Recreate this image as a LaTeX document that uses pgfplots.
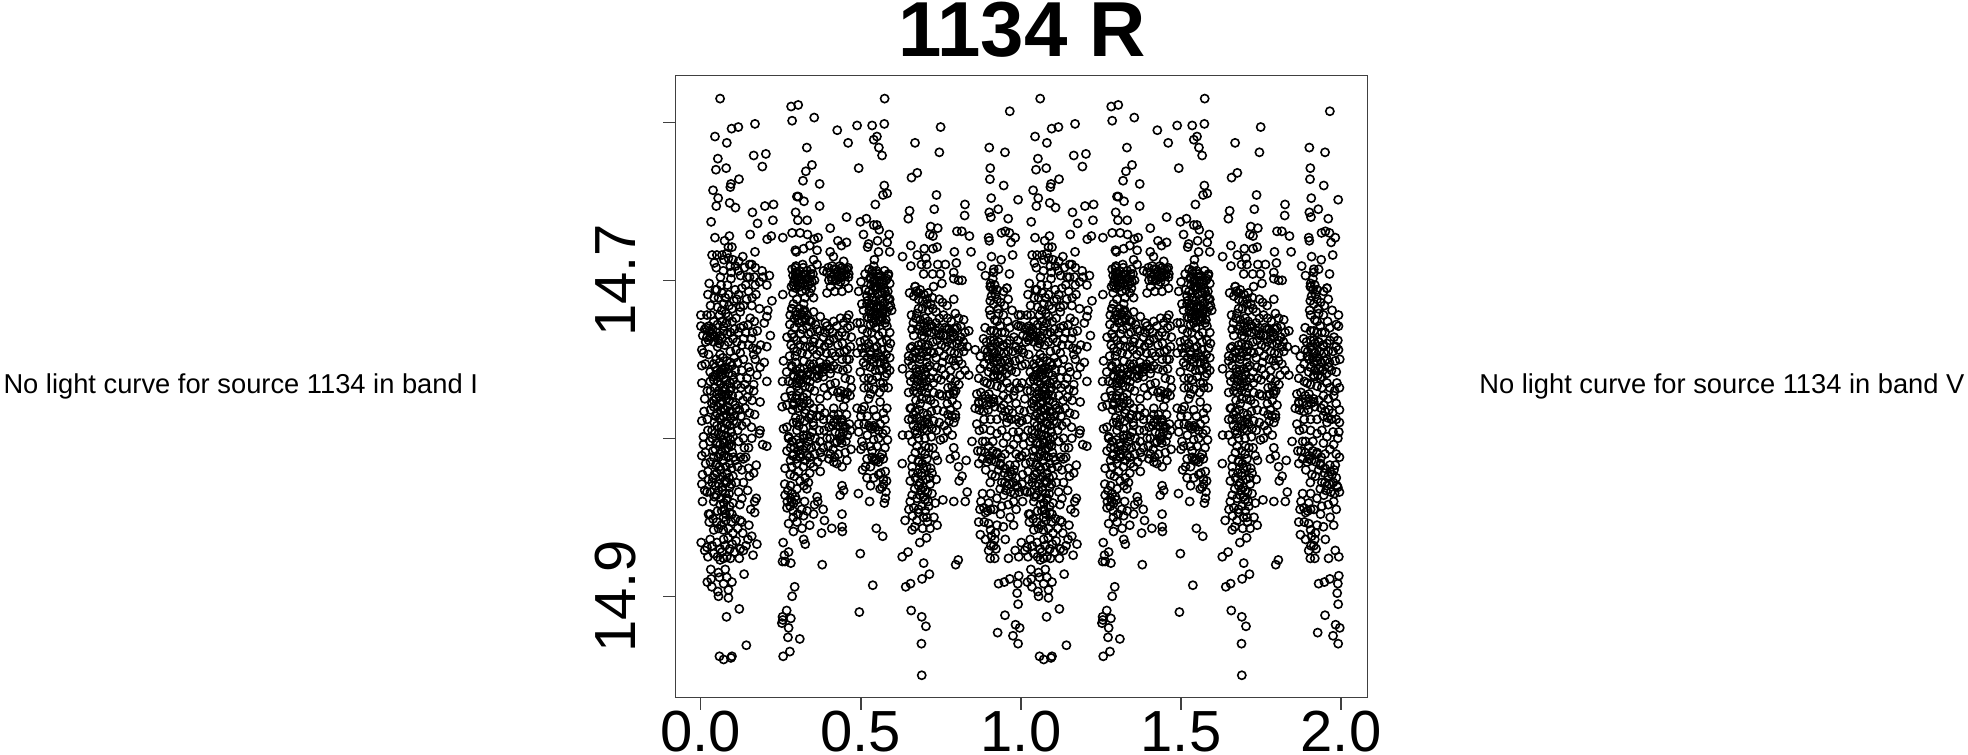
\documentclass[border=0pt]{standalone}
\usepackage{fontspec}
\setmainfont{Liberation Sans}
\usepackage{pgfplots}
\usepackage{pgfplotstable}
\pgfplotsset{compat=1.18}
\pgfplotstableread{
x y
.060 14.585
.282 14.590
.304 14.589
.354 14.597
.285 14.599
.574 14.585
.965 14.593
.169 14.601
.117 14.603
.096 14.604
.044 14.609
.081 14.613
.426 14.605
.488 14.602
.535 14.602
.573 14.601
.749 14.603
.550 14.609
.540 14.611
.460 14.613
.669 14.613
.556 14.616
.331 14.616
.901 14.616
.950 14.619
.745 14.619
.566 14.621
.165 14.621
.203 14.620
.053 14.623
.192 14.628
.047 14.630
.079 14.629
.347 14.627
.328 14.631
.493 14.629
.904 14.629
.676 14.632
.658 14.635
.119 14.636
.319 14.637
.903 14.636
.371 14.639
.573 14.640
.946 14.640
.094 14.639
.092 14.641
.038 14.643
.582 14.645
.569 14.646
.736 14.646
.300 14.647
.304 14.647
.054 14.648
.907 14.648
.991 14.649
.322 14.650
.090 14.651
.048 14.653
.108 14.654
.227 14.652
.200 14.653
.371 14.653
.545 14.652
.729 14.655
.825 14.652
.929 14.655
.161 14.657
.296 14.657
.652 14.656
.901 14.657
.824 14.659
.906 14.660
.455 14.660
.517 14.661
.648 14.661
.960 14.661
.032 14.663
.177 14.664
.225 14.662
.303 14.662
.332 14.662
.498 14.663
.540 14.665
.550 14.665
.718 14.666
.740 14.667
.404 14.667
.557 14.668
.800 14.669
.815 14.669
.951 14.669
.964 14.670
.939 14.670
.154 14.671
.285 14.670
.310 14.670
.333 14.671
.508 14.671
.588 14.671
.715 14.671
.725 14.672
.839 14.672
.089 14.672
.044 14.673
.220 14.672
.207 14.674
.256 14.673
.366 14.673
.354 14.674
.899 14.673
.901 14.675
.982 14.673
.969 14.676
.074 14.675
.552 14.675
.582 14.676
.428 14.675
.455 14.676
.439 14.678
.524 14.677
.521 14.679
.656 14.678
.738 14.679
.725 14.680
.698 14.680
.097 14.679
.086 14.679
.340 14.678
.321 14.680
.295 14.681
.298 14.682
.363 14.681
.169 14.682
.555 14.682
.590 14.682
.792 14.682
.844 14.682
.974 14.684
.404 14.682
.414 14.685
.676 14.684
.630 14.685
.050 14.684
.066 14.684
.081 14.683
.908 14.685
.703 14.686
.086 14.686
.131 14.685
.938 14.687
.352 14.687
.446 14.688
.542 14.687
.042 14.689
.100 14.687
.118 14.688
.152 14.690
.159 14.690
.689 14.690
.706 14.690
.740 14.690
.764 14.690
.798 14.689
.318 14.690
.363 14.690
.656 14.691
.877 14.691
.540 14.691
.070 14.694
.092 14.691
.117 14.694
.191 14.694
.915 14.693
.930 14.693
.295 14.692
.415 14.693
.441 14.692
.456 14.693
.790 14.695
.696 14.696
.724 14.696
.748 14.696
.964 14.696
.513 14.696
.214 14.697
.094 14.699
.144 14.698
.167 14.698
.194 14.698
.889 14.697
.915 14.695
.295 14.695
.300 14.698
.321 14.696
.383 14.694
.394 14.695
.425 14.695
.441 14.695
.461 14.698
.535 14.694
.555 14.696
.581 14.699
.816 14.700
.790 14.699
.805 14.700
.026 14.702
.170 14.703
.206 14.703
.500 14.701
.753 14.702
.310 14.702
.341 14.702
.410 14.700
.436 14.701
.540 14.700
.571 14.702
.050 14.706
.107 14.706
.149 14.707
.256 14.709
.222 14.713
.022 14.709
.066 14.708
.086 14.709
.493 14.707
.514 14.706
.461 14.705
.394 14.708
.441 14.707
.906 14.704
.956 14.705
.669 14.704
.727 14.704
.293 14.699
.303 14.703
.315 14.707
.331 14.699
.345 14.705
.355 14.700
.283 14.704
.288 14.708
.325 14.711
.352 14.711
.405 14.704
.420 14.699
.430 14.703
.450 14.701
.462 14.696
.418 14.707
.447 14.697
.530 14.698
.545 14.704
.558 14.700
.575 14.707
.585 14.697
.525 14.707
.535 14.711
.552 14.709
.565 14.713
.590 14.712
.527 14.716
.548 14.717
.570 14.718
.543 14.722
.557 14.725
.578 14.725
.530 14.728
.112 14.712
.123 14.717
.071 14.715
.097 14.718
.055 14.711
.045 14.706
.000 14.722
.019 14.722
.031 14.722
.058 14.722
.086 14.723
.000 14.729
.017 14.730
.006 14.735
.209 14.719
.183 14.718
.159 14.716
.123 14.720
.154 14.724
.167 14.726
.198 14.727
.206 14.723
.217 14.735
.206 14.742
.123 14.730
.133 14.729
.071 14.729
.034 14.734
.045 14.736
.029 14.736
.055 14.738
.040 14.739
.133 14.737
.149 14.741
.128 14.741
.086 14.739
.003 14.744
.008 14.746
.024 14.747
.060 14.747
.092 14.745
.123 14.746
.165 14.747
.170 14.750
.198 14.752
.003 14.754
.014 14.753
.133 14.750
.040 14.753
.076 14.755
.050 14.757
.066 14.756
.029 14.758
.097 14.754
.107 14.757
.149 14.755
.185 14.755
.175 14.760
.154 14.758
.086 14.759
.055 14.761
.071 14.762
.040 14.763
.102 14.763
.123 14.762
.144 14.762
.003 14.765
.029 14.764
.206 14.764
.165 14.766
.081 14.766
.279 14.722
.284 14.718
.289 14.715
.300 14.712
.321 14.715
.316 14.722
.326 14.725
.331 14.729
.352 14.720
.373 14.723
.389 14.727
.394 14.729
.415 14.726
.436 14.724
.462 14.722
.456 14.724
.425 14.729
.441 14.733
.451 14.735
.415 14.737
.383 14.736
.363 14.731
.269 14.736
.284 14.734
.300 14.738
.321 14.738
.336 14.734
.341 14.742
.326 14.742
.310 14.741
.352 14.739
.373 14.745
.399 14.740
.410 14.746
.467 14.742
.300 14.745
.295 14.748
.258 14.751
.284 14.754
.310 14.756
.352 14.753
.331 14.760
.363 14.757
.389 14.756
.415 14.754
.441 14.750
.456 14.750
.383 14.761
.404 14.759
.289 14.760
.310 14.763
.274 14.764
.255 14.764
.341 14.764
.420 14.765
.451 14.762
.467 14.763
.300 14.765
.363 14.762
.498 14.727
.519 14.715
.508 14.719
.529 14.717
.550 14.722
.571 14.719
.592 14.716
.540 14.727
.560 14.726
.581 14.729
.534 14.733
.555 14.735
.498 14.739
.581 14.738
.524 14.740
.550 14.742
.586 14.743
.571 14.750
.508 14.746
.488 14.746
.540 14.752
.581 14.755
.498 14.758
.524 14.762
.550 14.761
.581 14.759
.467 14.729
.488 14.727
.566 14.724
.524 14.724
.519 14.710
.540 14.704
.560 14.712
.586 14.712
.503 14.715
.508 14.752
.670 14.704
.680 14.708
.665 14.710
.706 14.715
.711 14.719
.675 14.721
.701 14.724
.717 14.728
.685 14.729
.660 14.731
.665 14.735
.691 14.735
.706 14.733
.743 14.734
.769 14.731
.758 14.735
.779 14.733
.795 14.731
.821 14.725
.837 14.732
.769 14.716
.758 14.722
.790 14.712
.795 14.721
.748 14.735
.680 14.741
.660 14.742
.649 14.748
.670 14.746
.706 14.745
.727 14.746
.764 14.742
.800 14.740
.821 14.745
.857 14.744
.685 14.750
.706 14.752
.630 14.756
.649 14.751
.675 14.758
.701 14.758
.717 14.762
.675 14.764
.656 14.764
.737 14.755
.764 14.760
.795 14.754
.815 14.753
.795 14.764
.837 14.760
.873 14.756
.873 14.748
.883 14.737
.888 14.730
.902 14.719
.904 14.713
.929 14.718
.956 14.705
.904 14.704
.925 14.706
.946 14.707
.935 14.729
.925 14.726
.904 14.742
.930 14.739
.946 14.742
.915 14.746
.956 14.750
.982 14.751
.992 14.744
.992 14.729
.992 14.722
.915 14.752
.935 14.755
.961 14.755
.915 14.761
.899 14.758
.935 14.762
.868 14.762
.894 14.765
.956 14.765
.987 14.765
.905 14.722
.930 14.721
.915 14.732
.940 14.733
.925 14.749
.895 14.748
.254 14.780
.263 14.774
.300 14.773
.331 14.772
.269 14.779
.289 14.778
.321 14.778
.352 14.781
.373 14.781
.415 14.781
.446 14.780
.258 14.794
.269 14.793
.300 14.790
.321 14.798
.289 14.790
.352 14.792
.383 14.788
.404 14.788
.441 14.788
.467 14.795
.274 14.799
.284 14.802
.269 14.808
.331 14.798
.341 14.799
.357 14.800
.404 14.800
.436 14.801
.444 14.792
.289 14.810
.310 14.812
.331 14.811
.373 14.809
.378 14.812
.415 14.815
.451 14.809
.469 14.807
.456 14.814
.342 14.816
.441 14.818
.263 14.819
.284 14.818
.305 14.821
.279 14.823
.373 14.821
.326 14.825
.336 14.828
.262 14.829
.331 14.832
.263 14.836
.295 14.837
.284 14.840
.324 14.840
.279 14.843
.269 14.844
.363 14.837
.365 14.840
.441 14.830
.435 14.836
.446 14.833
.289 14.850
.321 14.849
.352 14.848
.274 14.854
.386 14.852
.316 14.857
.289 14.859
.409 14.857
.377 14.860
.441 14.856
.442 14.859
.441 14.848
.321 14.864
.326 14.867
.257 14.866
.274 14.872
.261 14.874
.255 14.878
.281 14.879
.263 14.878
.524 14.768
.571 14.768
.488 14.781
.503 14.782
.524 14.775
.560 14.777
.581 14.781
.540 14.792
.529 14.793
.560 14.791
.578 14.795
.493 14.791
.493 14.796
.555 14.800
.503 14.802
.529 14.805
.508 14.805
.550 14.805
.566 14.810
.540 14.814
.519 14.813
.514 14.818
.545 14.813
.519 14.825
.555 14.823
.576 14.821
.571 14.829
.560 14.832
.576 14.838
.573 14.841
.492 14.835
.527 14.840
.548 14.857
.568 14.862
.649 14.771
.665 14.770
.654 14.781
.665 14.785
.649 14.788
.685 14.778
.706 14.788
.727 14.789
.758 14.783
.779 14.782
.795 14.787
.769 14.773
.790 14.770
.727 14.771
.753 14.773
.630 14.798
.649 14.798
.675 14.797
.696 14.794
.722 14.794
.758 14.800
.748 14.801
.675 14.805
.701 14.805
.660 14.813
.680 14.814
.706 14.813
.732 14.811
.739 14.814
.629 14.816
.660 14.818
.696 14.819
.722 14.822
.779 14.813
.795 14.811
.805 14.818
.829 14.814
.790 14.806
.816 14.824
.807 14.827
.654 14.827
.685 14.828
.716 14.829
.701 14.833
.660 14.836
.654 14.840
.732 14.841
.756 14.839
.790 14.840
.826 14.840
.832 14.834
.696 14.837
.665 14.844
.701 14.846
.638 14.852
.661 14.849
.706 14.850
.738 14.855
.660 14.858
.693 14.857
.705 14.863
.684 14.866
.915 14.777
.868 14.777
.899 14.775
.946 14.779
.857 14.781
.977 14.773
.925 14.788
.956 14.790
.862 14.791
.883 14.794
.847 14.802
.889 14.802
.899 14.805
.925 14.809
.956 14.799
.977 14.804
.993 14.796
.868 14.816
.899 14.813
.930 14.820
.966 14.821
.982 14.817
.909 14.823
.904 14.828
.940 14.828
.956 14.830
.987 14.830
.880 14.835
.899 14.841
.946 14.836
.977 14.840
.889 14.847
.936 14.848
.966 14.850
.868 14.853
.899 14.854
.925 14.855
.977 14.855
.873 14.861
.920 14.860
.889 14.864
.951 14.864
.899 14.871
.915 14.868
.904 14.876
.918 14.876
.961 14.876
.982 14.871
.993 14.875
.125 14.786
.185 14.777
.165 14.770
.185 14.795
.183 14.797
.133 14.800
.159 14.800
.149 14.806
.206 14.805
.193 14.804
.123 14.812
.133 14.813
.173 14.817
.149 14.819
.165 14.822
.152 14.824
.100 14.824
.133 14.828
.146 14.833
.118 14.834
.128 14.838
.173 14.838
.168 14.840
.156 14.845
.168 14.847
.097 14.848
.003 14.789
.008 14.799
.008 14.804
.003 14.811
.014 14.809
.005 14.823
.003 14.829
.019 14.834
.005 14.840
.024 14.848
.029 14.848
.026 14.853
.128 14.853
.123 14.852
.071 14.850
.055 14.857
.086 14.857
.071 14.864
.050 14.866
.060 14.870
.001 14.866
.029 14.864
.019 14.869
.175 14.867
.163 14.874
.147 14.864
.159 14.862
.131 14.860
.123 14.870
.133 14.871
.040 14.873
.066 14.872
.071 14.876
.081 14.875
.031 14.883
.032 14.889
.020 14.891
.034 14.894
.055 14.885
.058 14.888
.076 14.883
.081 14.888
.097 14.891
.071 14.892
.086 14.896
.053 14.897
.055 14.900
.086 14.901
.690 14.950
.058 14.938
.071 14.940
.094 14.939
.097 14.938
.142 14.931
.257 14.938
.278 14.935
.272 14.926
.309 14.927
.274 14.920
.253 14.917
.256 14.915
.255 14.913
.281 14.914
.268 14.909
.285 14.900
.293 14.894
.495 14.910
.537 14.893
.498 14.873
.379 14.880
.120 14.908
.080 14.913
.135 14.886
.657 14.909
.690 14.913
.703 14.919
.689 14.930
.640 14.894
.655 14.892
.691 14.889
.714 14.886
.629 14.875
.647 14.872
.696 14.879
.804 14.877
.796 14.880
.927 14.923
.950 14.912
.983 14.918
.975 14.925
.991 14.930
.996 14.920
.991 14.905
.988 14.898
.930 14.892
.948 14.891
.965 14.889
.990 14.892
.993 14.887
.030 14.770
.050 14.772
.070 14.768
.090 14.770
.040 14.776
.060 14.778
.080 14.775
.100 14.777
.030 14.782
.050 14.784
.070 14.781
.090 14.783
.110 14.781
.020 14.788
.042 14.790
.062 14.788
.082 14.791
.102 14.789
.035 14.795
.055 14.797
.075 14.794
.095 14.796
.115 14.795
.028 14.802
.048 14.803
.068 14.801
.088 14.804
.038 14.808
.058 14.810
.078 14.807
.098 14.809
.030 14.815
.050 14.816
.070 14.814
.090 14.816
.108 14.814
.022 14.821
.042 14.823
.062 14.820
.082 14.822
.035 14.828
.055 14.829
.075 14.827
.095 14.829
.030 14.834
.048 14.836
.068 14.833
.088 14.835
.040 14.840
.060 14.842
.080 14.839
.100 14.841
.052 14.846
.072 14.845
.090 14.847
.045 14.760
.062 14.766
.095 14.768
.078 14.773
.035 14.778
.305 14.770
.325 14.784
.345 14.785
.300 14.795
.310 14.805
.420 14.803
.430 14.810
.670 14.795
.680 14.800
.700 14.810
.670 14.825
.690 14.822
.710 14.840
.680 14.845
.012 14.731
.024 14.738
.037 14.731
.048 14.733
.061 14.735
.072 14.732
.015 14.739
.028 14.732
.058 14.740
.041 14.735
.066 14.737
.019 14.736
.074 14.741
.052 14.742
.082 14.734
.048 14.750
.058 14.752
.069 14.749
.081 14.751
.092 14.752
.045 14.755
.060 14.758
.072 14.757
.085 14.756
.098 14.760
.038 14.761
.052 14.764
.066 14.760
.079 14.763
.091 14.765
.044 14.768
.056 14.770
.065 14.772
.075 14.769
.085 14.772
.098 14.773
.047 14.775
.058 14.774
.068 14.777
.088 14.776
.107 14.779
.040 14.780
.053 14.780
.063 14.783
.076 14.782
.084 14.780
.097 14.783
.046 14.786
.058 14.787
.070 14.786
.080 14.785
.092 14.787
.105 14.786
.050 14.792
.065 14.793
.078 14.790
.090 14.792
.043 14.797
.062 14.798
.071 14.798
.084 14.799
.100 14.799
.036 14.800
.052 14.803
.060 14.804
.075 14.803
.092 14.801
.045 14.807
.065 14.808
.083 14.806
.095 14.805
.055 14.812
.072 14.811
.086 14.812
.040 14.812
.102 14.812
.046 14.817
.058 14.818
.078 14.818
.096 14.819
.050 14.822
.068 14.824
.088 14.825
.038 14.825
.060 14.826
.080 14.828
.046 14.830
.066 14.831
.090 14.831
.055 14.833
.076 14.835
.042 14.837
.062 14.838
.082 14.838
.072 14.841
.090 14.843
.065 14.846
.078 14.848
.285 14.693
.297 14.691
.308 14.694
.320 14.692
.332 14.694
.345 14.693
.288 14.697
.302 14.696
.314 14.699
.326 14.697
.338 14.699
.350 14.696
.291 14.701
.306 14.700
.320 14.702
.335 14.703
.347 14.701
.297 14.705
.310 14.704
.328 14.706
.340 14.708
.290 14.703
.305 14.698
.342 14.696
.398 14.692
.410 14.691
.422 14.693
.434 14.691
.448 14.693
.460 14.692
.405 14.695
.417 14.696
.429 14.697
.441 14.698
.453 14.696
.408 14.698
.423 14.700
.437 14.698
.400 14.700
.525 14.693
.537 14.696
.549 14.694
.562 14.697
.574 14.694
.586 14.696
.528 14.699
.541 14.701
.553 14.698
.566 14.701
.578 14.700
.590 14.702
.532 14.703
.546 14.706
.560 14.704
.572 14.705
.584 14.707
.536 14.708
.552 14.705
.566 14.708
.580 14.710
.520 14.713
.533 14.715
.547 14.713
.561 14.716
.575 14.714
.588 14.717
.526 14.719
.539 14.720
.554 14.718
.567 14.721
.581 14.720
.596 14.719
.520 14.723
.534 14.724
.547 14.726
.561 14.723
.575 14.727
.540 14.716
.556 14.721
.530 14.721
.285 14.718
.297 14.720
.309 14.718
.321 14.720
.333 14.722
.292 14.724
.304 14.725
.316 14.726
.328 14.724
.340 14.726
.298 14.722
.312 14.721
.324 14.719
.285 14.755
.297 14.757
.310 14.759
.322 14.756
.334 14.758
.346 14.755
.358 14.757
.370 14.756
.382 14.758
.394 14.755
.406 14.756
.291 14.761
.303 14.762
.316 14.760
.329 14.763
.342 14.760
.355 14.761
.368 14.760
.379 14.755
.392 14.753
.286 14.765
.300 14.767
.314 14.765
.326 14.767
.340 14.768
.284 14.773
.296 14.775
.308 14.777
.320 14.774
.332 14.776
.290 14.779
.303 14.781
.316 14.780
.328 14.782
.340 14.778
.286 14.782
.296 14.787
.310 14.788
.324 14.789
.338 14.787
.350 14.790
.362 14.786
.274 14.800
.286 14.802
.298 14.801
.310 14.803
.322 14.800
.336 14.802
.280 14.806
.292 14.806
.304 14.808
.318 14.807
.330 14.805
.345 14.806
.286 14.811
.298 14.813
.312 14.810
.326 14.814
.340 14.812
.415 14.790
.428 14.792
.440 14.790
.452 14.793
.464 14.791
.420 14.796
.433 14.797
.446 14.796
.458 14.798
.425 14.802
.440 14.803
.453 14.802
.428 14.771
.438 14.770
.448 14.772
.458 14.771
.466 14.773
.435 14.774
.452 14.775
.515 14.743
.528 14.745
.541 14.743
.553 14.746
.566 14.744
.579 14.747
.520 14.749
.534 14.750
.547 14.749
.560 14.752
.574 14.753
.530 14.755
.558 14.757
.575 14.761
.569 14.765
.525 14.792
.535 14.794
.545 14.793
.555 14.795
.535 14.812
.548 14.814
.560 14.812
.570 14.813
.562 14.822
.570 14.826
.580 14.827
.566 14.831
.578 14.834
.672 14.707
.685 14.706
.697 14.709
.710 14.708
.723 14.711
.680 14.712
.693 14.713
.706 14.712
.718 14.715
.672 14.724
.685 14.725
.697 14.727
.710 14.726
.722 14.729
.735 14.727
.745 14.730
.678 14.731
.692 14.732
.706 14.730
.720 14.733
.735 14.732
.762 14.730
.775 14.731
.787 14.733
.800 14.730
.766 14.735
.779 14.737
.792 14.736
.805 14.738
.770 14.739
.785 14.740
.655 14.743
.668 14.745
.680 14.744
.692 14.746
.705 14.748
.718 14.745
.661 14.749
.674 14.749
.688 14.748
.700 14.742
.672 14.756
.684 14.757
.696 14.756
.708 14.755
.678 14.760
.690 14.761
.702 14.760
.680 14.763
.692 14.765
.706 14.764
.672 14.767
.685 14.768
.698 14.767
.710 14.768
.676 14.771
.690 14.770
.703 14.771
.772 14.768
.785 14.767
.796 14.770
.778 14.772
.790 14.772
.657 14.781
.670 14.783
.682 14.782
.695 14.784
.708 14.785
.660 14.788
.675 14.787
.688 14.789
.700 14.790
.664 14.792
.678 14.793
.692 14.792
.706 14.795
.712 14.791
.772 14.785
.784 14.786
.795 14.785
.776 14.789
.790 14.790
.680 14.815
.692 14.816
.705 14.818
.718 14.819
.678 14.822
.690 14.824
.703 14.826
.715 14.825
.680 14.830
.695 14.831
.708 14.834
.685 14.836
.700 14.839
.712 14.843
.690 14.843
.680 14.847
.695 14.850
.708 14.853
.892 14.739
.905 14.738
.918 14.740
.930 14.739
.943 14.741
.956 14.740
.896 14.745
.908 14.744
.920 14.746
.933 14.745
.947 14.746
.960 14.745
.900 14.750
.912 14.749
.925 14.751
.938 14.752
.950 14.751
.964 14.752
.905 14.755
.918 14.757
.930 14.756
.943 14.757
.955 14.759
.915 14.760
.928 14.760
.940 14.761
.862 14.772
.875 14.771
.888 14.773
.900 14.772
.914 14.775
.868 14.778
.880 14.777
.893 14.779
.906 14.778
.918 14.780
.870 14.782
.884 14.783
.898 14.782
.938 14.781
.950 14.783
.962 14.782
.974 14.784
.944 14.786
.958 14.787
.970 14.788
.875 14.808
.888 14.809
.900 14.811
.912 14.808
.925 14.810
.938 14.812
.950 14.810
.880 14.813
.894 14.815
.908 14.814
.922 14.815
.936 14.816
.948 14.822
.960 14.824
.972 14.823
.985 14.825
.950 14.828
.963 14.829
.976 14.828
.990 14.831
.953 14.833
.968 14.834
.980 14.835
.995 14.834
.905 14.702
.912 14.706
.920 14.709
.908 14.710
.918 14.703
.872 14.845
.884 14.844
.896 14.846
.905 14.845
.908 14.862
.918 14.864
.906 14.868
.922 14.870
.935 14.817
.950 14.819
.965 14.817
.978 14.820
.270 14.840
.280 14.838
.290 14.841
.298 14.839
.285 14.835
.412 14.792
.425 14.788
.440 14.799
.405 14.810
.418 14.812
.035 14.684
.048 14.692
.061 14.698
.072 14.687
.083 14.703
.095 14.695
.108 14.691
.124 14.697
.136 14.692
.152 14.698
.170 14.692
.183 14.701
.128 14.705
.140 14.703
.160 14.711
.172 14.709
.118 14.709
.103 14.713
.088 14.716
.076 14.711
.063 14.703
.041 14.711
.030 14.716
.052 14.717
.065 14.719
.078 14.721
.098 14.726
.110 14.724
.118 14.733
.105 14.731
.092 14.733
.080 14.727
.066 14.726
.052 14.728
.040 14.726
.025 14.729
.100 14.737
.113 14.739
.140 14.733
.158 14.737
.143 14.712
.133 14.716
.148 14.728
.162 14.733
.176 14.732
.187 14.741
.175 14.744
.162 14.743
.110 14.744
.104 14.749
.115 14.752
.128 14.757
.112 14.766
.125 14.768
.137 14.766
.150 14.769
.118 14.773
.132 14.776
.145 14.774
.160 14.776
.120 14.782
.138 14.781
.152 14.784
.168 14.785
.112 14.790
.128 14.792
.142 14.790
.158 14.793
.118 14.802
.136 14.806
.115 14.818
.128 14.820
.140 14.812
.110 14.828
.122 14.842
.012 14.775
.020 14.770
.010 14.783
.022 14.795
.015 14.816
.024 14.826
.012 14.833
.038 14.851
.050 14.853
.064 14.855
.078 14.852
.095 14.853
.108 14.851
.040 14.858
.070 14.858
.100 14.860
.115 14.857
.085 14.863
.098 14.867
.110 14.865
.035 14.868
.075 14.868
.090 14.870
.105 14.872
.052 14.875
.060 14.877
.092 14.876
.120 14.876
.022 14.875
.012 14.871
.141 14.868
.150 14.855
.278 14.728
.292 14.730
.306 14.727
.318 14.731
.345 14.726
.358 14.728
.372 14.732
.388 14.733
.402 14.731
.412 14.733
.430 14.735
.446 14.727
.458 14.730
.291 14.736
.311 14.734
.344 14.733
.355 14.737
.370 14.740
.386 14.742
.402 14.738
.428 14.741
.442 14.740
.456 14.744
.470 14.736
.282 14.741
.290 14.743
.316 14.746
.333 14.747
.350 14.744
.362 14.747
.392 14.746
.420 14.748
.434 14.746
.448 14.745
.463 14.750
.277 14.748
.296 14.752
.322 14.751
.340 14.753
.372 14.752
.403 14.751
.428 14.756
.444 14.757
.458 14.756
.268 14.758
.280 14.770
.355 14.770
.372 14.775
.395 14.773
.412 14.770
.470 14.768
.385 14.768
.404 14.766
.372 14.786
.387 14.784
.400 14.793
.415 14.785
.430 14.785
.455 14.785
.370 14.795
.385 14.795
.394 14.800
.372 14.802
.360 14.805
.382 14.806
.398 14.805
.413 14.807
.348 14.796
.320 14.794
.306 14.792
.355 14.810
.365 14.815
.352 14.818
.400 14.813
.425 14.816
.280 14.814
.300 14.816
.320 14.818
.340 14.822
.292 14.824
.310 14.827
.322 14.830
.300 14.832
.280 14.830
.272 14.833
.288 14.846
.303 14.848
.315 14.845
.332 14.846
.300 14.853
.340 14.855
.355 14.842
.382 14.845
.505 14.731
.520 14.733
.545 14.730
.568 14.733
.590 14.733
.512 14.738
.538 14.738
.566 14.739
.592 14.740
.502 14.743
.530 14.747
.562 14.748
.590 14.749
.515 14.754
.545 14.757
.566 14.756
.590 14.757
.510 14.762
.536 14.763
.560 14.765
.510 14.768
.540 14.769
.558 14.771
.585 14.768
.530 14.772
.510 14.780
.540 14.782
.570 14.784
.500 14.786
.520 14.786
.548 14.786
.575 14.788
.510 14.791
.568 14.797
.583 14.801
.520 14.798
.540 14.801
.500 14.807
.535 14.808
.575 14.806
.555 14.815
.530 14.818
.505 14.820
.540 14.825
.530 14.830
.652 14.708
.692 14.718
.680 14.718
.725 14.718
.745 14.712
.755 14.714
.735 14.720
.745 14.724
.658 14.722
.664 14.727
.698 14.736
.725 14.739
.738 14.738
.752 14.741
.710 14.741
.690 14.740
.744 14.745
.735 14.749
.755 14.752
.715 14.754
.725 14.758
.738 14.762
.750 14.763
.726 14.765
.660 14.754
.652 14.760
.666 14.762
.745 14.772
.730 14.778
.718 14.776
.705 14.775
.690 14.775
.672 14.776
.738 14.782
.720 14.783
.745 14.790
.735 14.795
.720 14.799
.700 14.800
.712 14.806
.660 14.802
.670 14.809
.690 14.808
.725 14.806
.662 14.822
.668 14.832
.675 14.838
.688 14.833
.722 14.835
.735 14.826
.728 14.850
.716 14.857
.675 14.852
.650 14.845
.668 14.856
.770 14.724
.782 14.726
.805 14.724
.812 14.729
.825 14.733
.812 14.736
.820 14.739
.832 14.742
.815 14.742
.780 14.745
.792 14.746
.805 14.746
.775 14.750
.788 14.751
.805 14.751
.760 14.748
.752 14.756
.780 14.757
.810 14.760
.825 14.757
.780 14.762
.806 14.766
.770 14.778
.785 14.776
.800 14.779
.770 14.795
.785 14.798
.760 14.792
.912 14.699
.925 14.712
.915 14.715
.936 14.714
.948 14.716
.960 14.712
.918 14.725
.945 14.722
.958 14.726
.972 14.719
.985 14.728
.905 14.732
.925 14.733
.950 14.733
.965 14.730
.978 14.736
.990 14.738
.915 14.738
.965 14.738
.975 14.745
.985 14.742
.888 14.744
.885 14.753
.970 14.757
.985 14.758
.996 14.750
.885 14.764
.905 14.766
.925 14.767
.940 14.768
.965 14.768
.980 14.770
.995 14.768
.945 14.773
.960 14.775
.985 14.778
.995 14.782
.930 14.776
.985 14.788
.995 14.790
.905 14.788
.885 14.788
.870 14.795
.905 14.795
.925 14.797
.940 14.795
.975 14.796
.990 14.800
.912 14.802
.945 14.803
.965 14.807
.985 14.810
.995 14.812
.880 14.802
.865 14.808
.890 14.820
.920 14.824
.935 14.832
.925 14.838
.905 14.835
.915 14.845
.940 14.843
.960 14.842
.985 14.845
.875 14.840
.885 14.853
.905 14.858
.945 14.856
}\phasedata
\begin{document}
\begin{tikzpicture}[x=1pt,y=1pt]
\path[use as bounding box] (0,0) rectangle (1968,755);
\begin{axis}[
  at={(675.4pt,57.3pt)}, anchor=south west,
  scale only axis, width=692.2pt, height=622pt,
  xmin=-0.0796, xmax=2.083,
  ymin=14.5705, ymax=14.9642,
  y dir=reverse,
  axis line style={line width=1.2pt,color=black!75},
  tick style={line width=1.2pt,color=black!75},
  tick align=outside, tick pos=left,
  major tick length=12pt,
  xtick={0,0.5,1,1.5,2},
  xticklabels={0.0,0.5,1.0,1.5,2.0},
  ytick={14.6,14.7,14.8,14.9},
  yticklabels={{},14.7,{},14.9},
  x tick label style={font=\fontsize{58}{60}\selectfont, yshift=2pt},
  y tick label style={font=\fontsize{58}{60}\selectfont, rotate=90, anchor=south, yshift=24pt},
  clip=false,
]
\addplot[only marks, mark=o, mark size=4.1pt, mark options={line width=1.6pt,draw=black}]
  table[x=x,y=y] {\phasedata};
\addplot[only marks, mark=o, mark size=4.1pt, mark options={line width=1.6pt,draw=black}]
  table[x expr=\thisrow{x}+1,y=y] {\phasedata};
\end{axis}
\node[font=\fontsize{78}{80}\selectfont\bfseries,anchor=base] at (1022,698) {1134 R};
\node[font=\fontsize{27.3}{30}\selectfont,anchor=west] at (0,369) {No light curve for source 1134 in band I};
\node[font=\fontsize{27.3}{30}\selectfont,anchor=east] at (1968,369) {No light curve for source 1134 in band V};
\end{tikzpicture}
\end{document}
